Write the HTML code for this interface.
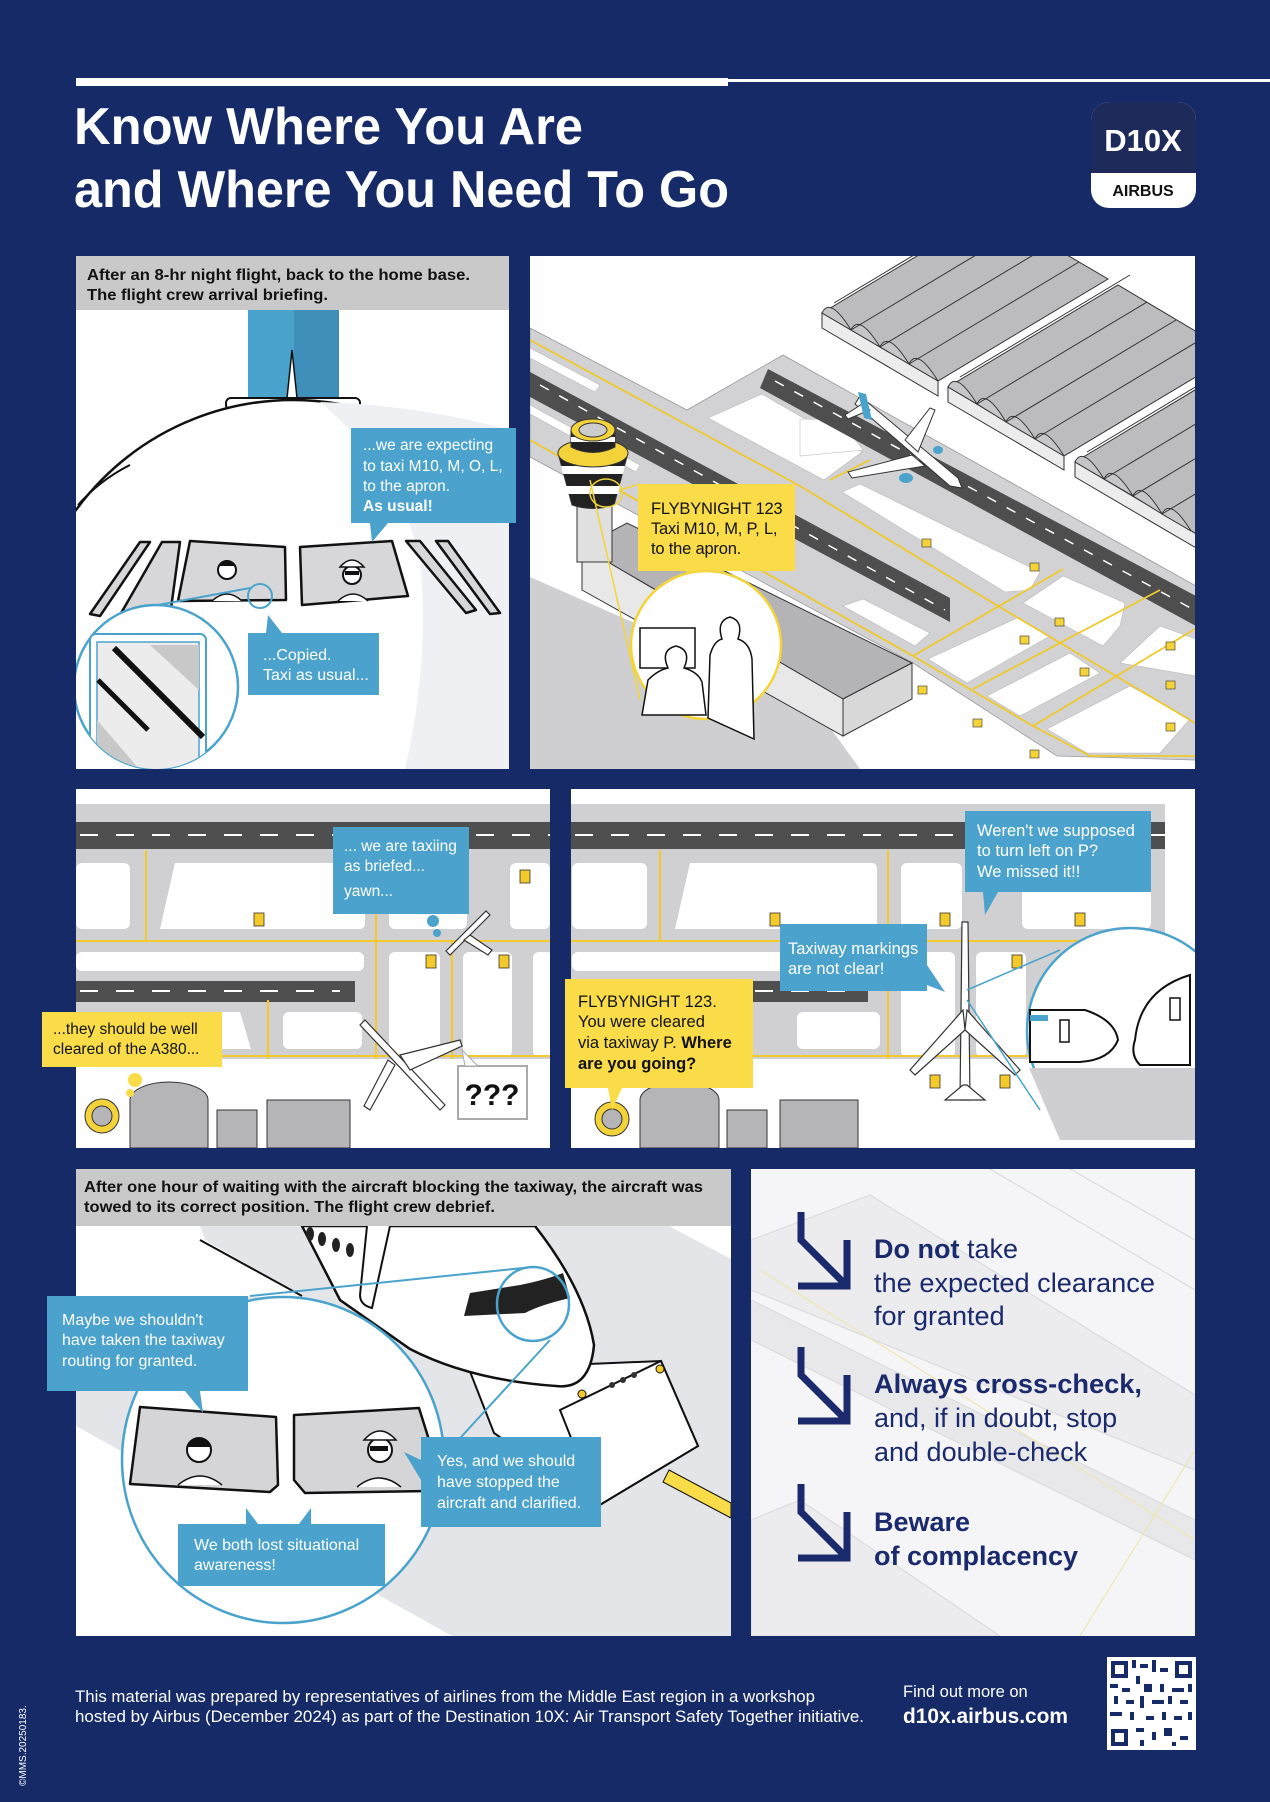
<!DOCTYPE html>
<html><head><meta charset="utf-8"><style>
html,body{margin:0;padding:0;background:#162a68;}
svg{display:block}
text{font-family:"Liberation Sans",sans-serif}
</style></head><body>
<svg width="1270" height="1802" viewBox="0 0 1270 1802" xmlns="http://www.w3.org/2000/svg">
<defs>
<clipPath id="c1"><rect x="76" y="310" width="433" height="459"/></clipPath>
<clipPath id="c2"><rect x="530" y="256" width="665" height="513"/></clipPath>
<clipPath id="c3"><rect x="76" y="789" width="474" height="359"/></clipPath>
<clipPath id="c4"><rect x="571" y="789" width="624" height="359"/></clipPath>
<clipPath id="c5"><rect x="76" y="1226" width="655" height="410"/></clipPath>
<clipPath id="c6"><rect x="751" y="1169" width="444" height="467"/></clipPath>
<clipPath id="mag1"><circle cx="156" cy="687" r="82"/></clipPath>
</defs>
<rect width="1270" height="1802" fill="#162a68"/>
<rect x="76" y="78" width="652" height="8" fill="#fff"/>
<rect x="728" y="79" width="542" height="3" fill="#fff"/>
<text x="74" y="144" font-size="52" font-weight="bold" fill="#fff" textLength="509" lengthAdjust="spacingAndGlyphs">Know Where You Are</text>
<text x="74" y="207" font-size="52" font-weight="bold" fill="#fff" textLength="655" lengthAdjust="spacingAndGlyphs">and Where You Need To Go</text>
<rect x="1091" y="102" width="105" height="106" rx="18" fill="#fff"/>
<path d="M1091 173 V120 a18 18 0 0 1 18 -18 h69 a18 18 0 0 1 18 18 V173 Z" fill="#1e2b5a"/>
<text x="1143" y="151" font-size="31" font-weight="bold" fill="#fff" text-anchor="middle">D10X</text>
<text x="1143" y="196" font-size="16" font-weight="bold" fill="#111" text-anchor="middle">AIRBUS</text>

<!-- PANEL 1 -->
<rect x="76" y="256" width="433" height="513" fill="#fff"/>
<rect x="76" y="256" width="433" height="54" fill="#c9c9c9"/>
<text x="87" y="280" font-size="16" font-weight="bold" fill="#111" textLength="383" lengthAdjust="spacingAndGlyphs">After an 8-hr night flight, back to the home base.</text>
<text x="87" y="300" font-size="16" font-weight="bold" fill="#111" textLength="241" lengthAdjust="spacingAndGlyphs">The flight crew arrival briefing.</text>
<g clip-path="url(#c1)">
<rect x="248" y="310" width="46" height="88" fill="#4aa3cc"/>
<rect x="294" y="310" width="45" height="88" fill="#3f8fba"/>
<path d="M287 398 L292 350 L297 398 Z" fill="#fff" stroke="#111" stroke-width="1.5"/>
<rect x="226" y="398" width="134" height="12" rx="5" fill="#fff" stroke="#111" stroke-width="2"/>
<circle cx="293" cy="669" r="269" fill="#fff" stroke="#111" stroke-width="2.5"/>
<path d="M320 402 Q400 470 420 560 Q430 660 405 769 L509 769 L509 430 Q420 405 320 402 Z" fill="#eef0f3"/>
<path d="M130 465 Q100 480 78 505" stroke="#111" stroke-width="2" fill="none"/>
<g fill="#d7d7d9" stroke="#111" stroke-width="2.5" stroke-linejoin="round">
<path d="M90 614 L140 542 L150 542 L100 616 Z"/>
<path d="M120 615 L162 542 L180 542 L170 616 Z"/>
<path d="M190 541 L285 547 L286 600 L178 601 Z"/>
<path d="M300 547 L392 541 L408 596 L302 605 Z"/>
<path d="M406 541 L420 541 L476 610 L466 613 Z"/>
<path d="M436 541 L448 541 L500 613 L490 614 Z"/>
</g>
<circle cx="227" cy="570" r="9" fill="#fff" stroke="#111" stroke-width="2"/><path d="M218 566 q9 -12 18 0" fill="#111"/>
<path d="M212 601 q15 -14 30 0" fill="#fff" stroke="#111" stroke-width="1.5"/>
<circle cx="352" cy="575" r="9" fill="#fff" stroke="#111" stroke-width="2"/><path d="M340 567 q12 -14 24 0 z" fill="#fff" stroke="#111" stroke-width="1.5"/><rect x="345" y="571" width="14" height="4" fill="#111"/>
<path d="M338 601 q15 -14 30 0" fill="#fff" stroke="#111" stroke-width="1.5"/>
<circle cx="260" cy="596" r="12" fill="none" stroke="#4aa3cc" stroke-width="2"/>
<line x1="158" y1="605" x2="250" y2="588" stroke="#4aa3cc" stroke-width="2"/>
<circle cx="156" cy="687" r="82" fill="#fff" stroke="#4aa3cc" stroke-width="2.5"/>
<g clip-path="url(#mag1)">
<rect x="90" y="634" width="116" height="150" rx="6" fill="#fff" stroke="#4aa3cc" stroke-width="2"/>
<rect x="97" y="642" width="102" height="140" fill="#ececec" stroke="#4aa3cc" stroke-width="1.5"/>
<polygon points="150,645 199,645 199,690" fill="#c8c8c8"/>
<polygon points="97,720 140,770 120,782 97,782" fill="#c8c8c8"/>
<line x1="114" y1="648" x2="203" y2="737" stroke="#111" stroke-width="6"/>
<line x1="98" y1="680" x2="148" y2="730" stroke="#111" stroke-width="5"/>
</g>
</g>
<rect x="351" y="428" width="165" height="95" fill="#4ba3cd"/>
<polygon points="370,523 388,523 372,542" fill="#4ba3cd"/>
<g font-size="15.5" fill="#fff"><text x="363" y="450">...we are expecting</text><text x="363" y="471">to taxi M10, M, O, L,</text><text x="363" y="491">to the apron.</text><text x="363" y="511" font-weight="bold">As usual!</text></g>
<rect x="248" y="633" width="131" height="62" fill="#4ba3cd"/>
<polygon points="266,633 282,633 268,615" fill="#4ba3cd"/>
<g font-size="16" fill="#fff"><text x="263" y="660">...Copied.</text><text x="263" y="680">Taxi as usual...</text></g>

<!-- PANEL 2 -->
<rect x="530" y="256" width="665" height="513" fill="#fff"/>
<g clip-path="url(#c2)">
<polygon points="530,577 810,700 860,769 530,769" fill="#cfcfd1"/>
<!-- pavement -->
<polygon points="530,328 687,410 783,355 1196,586 1196,760 1057,756 913,663 530,457" fill="#d2d2d4" stroke="#999" stroke-width="0.8"/>
<g fill="#fff" stroke="#bbb" stroke-width="0.6">
<polygon points="530,348 600,385 595,392 530,358"/>
<polygon points="530,405 640,465 636,472 530,414"/>
<polygon points="708,418 762,394 862,452 824,480"/>
<polygon points="842,492 860,484 1040,572 1030,590 1005,592"/>
<polygon points="800,419 840,420 863,450 800,456"/>
<polygon points="843,606 863,599 930,633 915,646"/>
<polygon points="1023,603 1063,576 1125,603 1120,626 1103,646"/>
<polygon points="928,659 1017,618 1050,636 967,683"/>
<polygon points="987,696 1070,653 1100,673 1020,716"/>
<polygon points="1047,729 1130,686 1190,719 1160,753 1087,753"/>
<polygon points="1120,663 1160,626 1196,639 1196,676"/>
</g>
<polygon points="530,372 950,598 950,622 530,397" fill="#4e4e4e"/>
<polygon points="768,369 1196,596 1196,626 760,388" fill="#4e4e4e"/>
<line x1="540" y1="385" x2="945" y2="610" stroke="#fff" stroke-width="1.5" stroke-dasharray="10,12"/>
<line x1="775" y1="381" x2="1196" y2="611" stroke="#fff" stroke-width="1.5" stroke-dasharray="10,12"/>
<g stroke="#f1c82a" stroke-width="1.8" fill="none">
<polyline points="530,340 800,486 993,603 1195,723"/>
<line x1="530" y1="440" x2="913" y2="656"/>
<line x1="913" y1="656" x2="1063" y2="569"/>
<line x1="973" y1="689" x2="1160" y2="590"/>
<line x1="1033" y1="726" x2="1195" y2="629"/>
<polyline points="913,656 1033,726 1090,756 1195,756"/>
<line x1="830" y1="480" x2="870" y2="460"/>
</g>
<g fill="#f4d23a" stroke="#333" stroke-width=".6"><rect x="922" y="539" width="9" height="8"/><rect x="1030" y="563" width="9" height="8"/><rect x="1055" y="618" width="9" height="8"/><rect x="1020" y="636" width="9" height="8"/><rect x="1080" y="668" width="9" height="8"/><rect x="918" y="686" width="9" height="8"/><rect x="973" y="719" width="9" height="8"/><rect x="1166" y="642" width="9" height="8"/><rect x="1166" y="681" width="9" height="8"/><rect x="1166" y="723" width="9" height="8"/><rect x="1030" y="750" width="9" height="8"/></g>
<!-- hangars -->
<g stroke="#333" stroke-width="1">
<polygon points="822,313 938,381 1108,279 992,211" fill="#bcbcbe"/>
<polygon points="822,313 938,381 938,396 822,328" fill="#ececec"/>
<polygon points="948,387 1064,456 1234,354 1118,285" fill="#bcbcbe"/>
<polygon points="948,387 1064,456 1064,470 948,402" fill="#ececec"/>
<polygon points="1075,462 1220,548 1390,446 1245,360" fill="#bcbcbe"/>
<polygon points="1075,462 1220,548 1220,562 1075,477" fill="#ececec"/>
</g>
<g stroke="#333" stroke-width="1" fill="#c6c6c8">
<path d="M822 313 Q830 296 851 330 Z"/><path d="M851 330 Q859 313 880 347 Z"/><path d="M880 347 Q888 330 909 364 Z"/><path d="M909 364 Q917 347 938 381 Z"/>
<path d="M948 387 Q956 370 977 404 Z"/><path d="M977 404 Q985 387 1006 422 Z"/><path d="M1006 422 Q1014 405 1035 439 Z"/><path d="M1035 439 Q1043 422 1064 456 Z"/>
<path d="M1075 462 Q1083 445 1104 479 Z"/><path d="M1104 479 Q1112 462 1133 496 Z"/><path d="M1133 496 Q1141 479 1162 514 Z"/><path d="M1162 514 Q1170 497 1191 531 Z"/>
</g>
<g stroke="#333" stroke-width="1">
<line x1="851" y1="330" x2="1021" y2="228"/><line x1="880" y1="347" x2="1050" y2="245"/><line x1="909" y1="364" x2="1079" y2="262"/><line x1="834" y1="303" x2="1004" y2="201"/>
<line x1="977" y1="404" x2="1147" y2="302"/><line x1="1006" y1="422" x2="1176" y2="320"/><line x1="1035" y1="439" x2="1205" y2="337"/><line x1="960" y1="377" x2="1130" y2="275"/>
<line x1="1104" y1="479" x2="1274" y2="377"/><line x1="1133" y1="496" x2="1303" y2="394"/><line x1="1162" y1="514" x2="1332" y2="412"/><line x1="1087" y1="452" x2="1257" y2="350"/>
</g>
<!-- building -->
<polygon points="582,547 627,523 912,663 843,699" fill="#b4b4b6" stroke="#333"/>
<polygon points="582,547 843,699 843,736 582,590" fill="#e8e8e8" stroke="#333"/>
<polygon points="843,699 912,663 912,699 843,736" fill="#d8d8d8" stroke="#333"/>
<!-- tower -->
<rect x="577" y="490" width="35" height="72" fill="#e0e0e0" stroke="#333"/>
<path d="M558 453 H628 L614 505 Q593 512 572 505 Z" fill="#222" stroke="#333"/>
<path d="M561 466 H625 L623 474 H563 Z M566 486 H620 L618 494 H568 Z" fill="#fff"/>
<ellipse cx="593" cy="453" rx="35" ry="14" fill="#f4d23a" stroke="#333"/>
<path d="M571 430 V447 Q593 458 615 447 V430" fill="#222" stroke="#333"/>
<rect x="571" y="437" width="44" height="5" fill="#fff"/>
<ellipse cx="593" cy="430" rx="22" ry="11" fill="#f4d23a" stroke="#333"/>
<ellipse cx="593" cy="430" rx="14" ry="7" fill="#ccc" stroke="#333"/>
<!-- plane -->
<g stroke="#333" stroke-width="1" fill="#fff">
<path d="M860 396 L958 478 L962 488 L950 486 L855 404 Z"/>
<path d="M905 440 L930 408 L935 410 L918 452 Z"/>
<path d="M912 455 L848 472 L852 478 L925 466 Z"/>
<path d="M862 404 L845 415 L848 419 L870 410 Z"/>
</g>
<path d="M858 392 L866 394 L872 420 L864 418 Z" fill="#4aa3cc"/>
<ellipse cx="906" cy="478" rx="7" ry="5" fill="#4aa3cc"/>
<ellipse cx="938" cy="450" rx="5" ry="4" fill="#4aa3cc"/>
</g>
<line x1="590" y1="480" x2="640" y2="700" stroke="#f3d43a" stroke-width="1.5"/>
<line x1="620" y1="490" x2="640" y2="484" stroke="#f3d43a" stroke-width="1.5"/>
<ellipse cx="606" cy="493" rx="16" ry="14" fill="none" stroke="#f3d43a" stroke-width="1.5"/>
<rect x="638" y="484" width="157" height="87" fill="#f9dc48"/>
<polygon points="686,571 706,571 690,596" fill="#f9dc48"/>
<ellipse cx="706" cy="645" rx="75" ry="74" fill="#fff" stroke="#f3d43a" stroke-width="2.5"/>
<rect x="640" y="628" width="55" height="40" fill="none" stroke="#111" stroke-width="1.5"/>
<path d="M642 715 L648 680 q10 -10 20 -12 q-8 -18 8 -22 q16 4 8 22 q14 4 18 14 l4 33 z" fill="#fff" stroke="#111" stroke-width="1.5"/>
<path d="M708 718 L710 655 q4 -14 12 -16 q-6 -18 8 -22 q14 4 8 22 q12 4 14 20 l2 80 z" fill="#fff" stroke="#111" stroke-width="1.5"/>
<g font-size="16.5" fill="#111" letter-spacing="-0.2"><text x="651" y="514">FLYBYNIGHT 123</text><text x="651" y="534">Taxi M10, M, P, L,</text><text x="651" y="554">to the apron.</text></g>

<!-- PANEL 3 -->
<rect x="76" y="789" width="474" height="359" fill="#fff"/>
<g clip-path="url(#c3)">
<rect x="76" y="804" width="474" height="255" fill="#d0d0d2"/>
<rect x="76" y="822" width="474" height="27" fill="#4f4f4f"/>
<line x1="80" y1="835" x2="550" y2="835" stroke="#fff" stroke-width="2" stroke-dasharray="18,18"/>
<g fill="#fff">
<rect x="76" y="863" width="54" height="66" rx="6"/><path d="M175 863 H360 a5 5 0 0 1 5 5 V924 a5 5 0 0 1 -5 5 H160 Z"/>
<rect x="389" y="863" width="78" height="66" rx="6"/><rect x="510" y="863" width="40" height="66" rx="6"/>
<rect x="76" y="952" width="288" height="19" rx="6"/>
<rect x="389" y="952" width="51" height="105" rx="6"/><rect x="463" y="952" width="49" height="105" rx="6"/><rect x="533" y="952" width="20" height="105" rx="6"/>
<path d="M76 1012 H240 L251 1049 H76 Z"/><rect x="283" y="1012" width="79" height="37" rx="6"/>
<rect x="76" y="1059" width="474" height="89"/>
</g>
<rect x="76" y="981" width="279" height="21" fill="#4f4f4f"/>
<line x1="80" y1="991" x2="340" y2="991" stroke="#fff" stroke-width="2" stroke-dasharray="18,18"/>
<g stroke="#f4c92a" stroke-width="2" fill="none"><line x1="76" y1="941" x2="550" y2="941"/><line x1="376" y1="850" x2="376" y2="1059"/><line x1="452" y1="941" x2="452" y2="1059"/><line x1="146" y1="850" x2="146" y2="941"/><line x1="76" y1="1056" x2="550" y2="1056"/><line x1="268" y1="1000" x2="268" y2="1059"/></g>
<g fill="#f4c92a" stroke="#333" stroke-width=".8"><rect x="254" y="913" width="10" height="13"/><rect x="426" y="955" width="10" height="13"/><rect x="499" y="955" width="10" height="13"/><rect x="520" y="870" width="10" height="13"/></g>
<path d="M130 1148 V1100 a39 18 0 0 1 78 0 V1148 Z" fill="#b5b5b8" stroke="#333"/>
<rect x="217" y="1110" width="40" height="38" fill="#b5b5b8" stroke="#333"/>
<rect x="267" y="1100" width="83" height="48" fill="#b5b5b8" stroke="#333"/>
<circle cx="102" cy="1116" r="17" fill="#f4d23a" stroke="#333"/><circle cx="102" cy="1116" r="10" fill="#b5b5b8" stroke="#333"/>
<g fill="#fff" stroke="#333" stroke-width="1.2">
<path d="M365 1020 L445 1105 L440 1110 L360 1025 Z"/><path d="M400 1055 L460 1040 L462 1046 L410 1070 Z"/><path d="M395 1065 L370 1110 L364 1106 L388 1060 Z"/>
<path d="M490 915 L450 955 L446 951 L486 911 Z"/><path d="M470 935 L492 950 L488 955 L464 940 Z"/>
</g>
</g>
<rect x="333" y="827" width="136" height="87" fill="#4ba3cd"/>
<circle cx="433" cy="921" r="6" fill="#4ba3cd"/><circle cx="437" cy="933" r="4" fill="#4ba3cd"/>
<g font-size="15.5" fill="#fff"><text x="344" y="851">... we are taxiing</text><text x="344" y="871">as briefed...</text><text x="344" y="896">yawn...</text></g>
<rect x="42" y="1012" width="180" height="55" fill="#f9dc48"/>
<circle cx="135" cy="1080" r="7" fill="#f9dc48"/><circle cx="130" cy="1093" r="4" fill="#f9dc48"/>
<g font-size="15.5" fill="#111"><text x="53" y="1034">...they should be well</text><text x="53" y="1054">cleared of the A380...</text></g>
<rect x="458" y="1066" width="69" height="53" fill="#fff" stroke="#aaa" stroke-width="2"/>
<polygon points="465,1066 478,1066 462,1050" fill="#fff" stroke="#aaa" stroke-width="1"/>
<text x="492" y="1105" font-size="30" font-weight="bold" fill="#111" text-anchor="middle">???</text>

<!-- PANEL 4 -->
<rect x="571" y="789" width="624" height="359" fill="#fff"/>
<g clip-path="url(#c4)">
<rect x="571" y="804" width="594" height="255" fill="#d0d0d2"/>
<rect x="571" y="822" width="594" height="27" fill="#4f4f4f"/>
<line x1="575" y1="835" x2="1165" y2="835" stroke="#fff" stroke-width="2" stroke-dasharray="18,18"/>
<g fill="#fff">
<rect x="572" y="863" width="75" height="66" rx="6"/><path d="M690 863 H872 a5 5 0 0 1 5 5 V924 a5 5 0 0 1 -5 5 H675 Z"/>
<rect x="901" y="863" width="61" height="66" rx="6"/><rect x="1022" y="863" width="129" height="66" rx="6"/>
<rect x="572" y="952" width="296" height="19" rx="6"/>
<rect x="901" y="952" width="54" height="105" rx="6"/><rect x="976" y="952" width="50" height="105" rx="6"/>
<rect x="797" y="1012" width="83" height="37" rx="6"/><path d="M572 1012 H740 L750 1049 H572 Z"/>
<rect x="571" y="1059" width="624" height="89"/>
</g>
<rect x="571" y="981" width="297" height="21" fill="#4f4f4f"/>
<line x1="575" y1="991" x2="860" y2="991" stroke="#fff" stroke-width="2" stroke-dasharray="18,18"/>
<g stroke="#f4c92a" stroke-width="2" fill="none"><line x1="571" y1="941" x2="1165" y2="941"/><line x1="888" y1="850" x2="888" y2="1059"/><line x1="965" y1="941" x2="965" y2="1059"/><line x1="660" y1="850" x2="660" y2="941"/><line x1="571" y1="1056" x2="1165" y2="1056"/></g>
<g fill="#f4c92a" stroke="#333" stroke-width=".8"><rect x="770" y="913" width="10" height="13"/><rect x="940" y="913" width="10" height="13"/><rect x="1075" y="913" width="10" height="13"/><rect x="1012" y="955" width="10" height="13"/><rect x="930" y="1075" width="10" height="13"/><rect x="1000" y="1075" width="10" height="13"/></g>
<path d="M640 1148 V1100 a39 18 0 0 1 79 0 V1148 Z" fill="#b5b5b8" stroke="#333"/>
<rect x="727" y="1110" width="40" height="38" fill="#b5b5b8" stroke="#333"/>
<rect x="780" y="1100" width="78" height="48" fill="#b5b5b8" stroke="#333"/>
<circle cx="612" cy="1119" r="17" fill="#f4d23a" stroke="#333"/><circle cx="612" cy="1119" r="10" fill="#b5b5b8" stroke="#333"/>
<g fill="#fff" stroke="#333" stroke-width="1.2">
<path d="M962 922 L968 922 L970 1100 L960 1100 Z"/>
<path d="M963 1010 L910 1070 L915 1075 L965 1030 Z"/><path d="M967 1010 L1020 1070 L1015 1075 L965 1030 Z"/>
<path d="M963 1085 L945 1100 L985 1100 L967 1085 Z"/>
</g>
<circle cx="1130" cy="1031" r="103" fill="#fff" stroke="#4aa3cc" stroke-width="2.5"/>
<path d="M1029 1068 H1195 V1140 H1060 Z" fill="#cfcfd1"/>
<path d="M1030 1010 H1085 Q1115 1020 1118 1040 Q1110 1060 1080 1062 H1030 Z" fill="#fff" stroke="#111" stroke-width="2"/>
<rect x="1060" y="1020" width="9" height="22" fill="#fff" stroke="#111" stroke-width="1.5"/>
<path d="M1135 1040 Q1140 990 1190 975 V1065 H1140 Q1130 1055 1135 1040 Z" fill="#fff" stroke="#111" stroke-width="2"/>
<rect x="1170" y="998" width="10" height="22" fill="#fff" stroke="#111" stroke-width="1.5"/>
<rect x="1030" y="1015" width="18" height="6" fill="#4aa3cc"/>
<line x1="967" y1="990" x2="1060" y2="950" stroke="#4aa3cc" stroke-width="1.5"/>
<line x1="967" y1="1000" x2="1040" y2="1110" stroke="#4aa3cc" stroke-width="1.5"/>
</g>
<rect x="965" y="811" width="186" height="81" fill="#4ba3cd"/>
<polygon points="983,892 998,892 985,915" fill="#4ba3cd"/>
<g font-size="16.5" fill="#fff"><text x="977" y="836">Weren't we supposed</text><text x="977" y="856">to turn left on P?</text><text x="977" y="877">We missed it!!</text></g>
<rect x="780" y="924" width="147" height="67" fill="#4ba3cd"/>
<polygon points="927,965 927,985 945,992" fill="#4ba3cd"/>
<g font-size="16.5" fill="#fff"><text x="788" y="954">Taxiway markings</text><text x="788" y="974">are not clear!</text></g>
<rect x="565" y="979" width="188" height="109" fill="#f9dc48"/>
<polygon points="608,1088 622,1088 612,1110" fill="#f9dc48"/>
<g font-size="16.5" fill="#111"><text x="578" y="1007">FLYBYNIGHT 123.</text><text x="578" y="1027">You were cleared</text><text x="578" y="1048">via taxiway P. <tspan font-weight="bold">Where</tspan></text><text x="578" y="1069" font-weight="bold">are you going?</text></g>

<!-- PANEL 5 -->
<rect x="76" y="1169" width="655" height="467" fill="#e4e5e8"/>
<rect x="76" y="1169" width="655" height="57" fill="#c9c9c9"/>
<text x="84" y="1192" font-size="16" font-weight="bold" fill="#111" textLength="619" lengthAdjust="spacingAndGlyphs">After one hour of waiting with the aircraft blocking the taxiway, the aircraft was</text>
<text x="84" y="1212" font-size="16" font-weight="bold" fill="#111" textLength="411" lengthAdjust="spacingAndGlyphs">towed to its correct position. The flight crew debrief.</text>
<g clip-path="url(#c5)">
<polygon points="76,1426 452,1636 76,1636" fill="#fff"/>
<polygon points="669,1226 731,1226 731,1259" fill="#fff"/>
<polygon points="76,1226 200,1226 205,1240 302,1296 76,1300" fill="#fff"/>
<line x1="200" y1="1240" x2="302" y2="1296" stroke="#111" stroke-width="2"/>
<polygon points="469,1369 661,1361 698,1446 598,1506 494,1433" fill="#fff" stroke="#111" stroke-width="2"/>
<polygon points="560,1410 661,1361 698,1446 598,1506" fill="#fff" stroke="#111" stroke-width="2"/>
<circle cx="582" cy="1394" r="4" fill="#f4c92a" stroke="#111"/><circle cx="660" cy="1369" r="4" fill="#f4c92a" stroke="#111"/>
<circle cx="612" cy="1385" r="3" fill="#333"/><circle cx="623" cy="1380" r="3" fill="#333"/><circle cx="634" cy="1375" r="3" fill="#333"/>
<path d="M302 1226 L535 1226 Q585 1290 594 1345 Q590 1390 556 1386 Q470 1380 410 1349 L340 1300 Z" fill="#fff" stroke="#111" stroke-width="2.5"/>
<path d="M367 1226 L360 1295 Q360 1305 372 1308 L390 1226" fill="#fff" stroke="#111" stroke-width="2"/>
<path d="M464 1316 L470 1293 L520 1285 Q545 1280 563 1273 L570 1298 Q540 1305 525 1313 Z" fill="#222"/>
<g fill="#222"><ellipse cx="310" cy="1234" rx="4" ry="7"/><ellipse cx="322" cy="1239" rx="4" ry="7"/><ellipse cx="336" cy="1245" rx="4" ry="7"/><ellipse cx="350" cy="1250" rx="4" ry="7"/></g>
<polygon points="669,1470 731,1503 731,1518 663,1482" fill="#f9dc48" stroke="#111"/>
<ellipse cx="533" cy="1304" rx="36" ry="37" fill="none" stroke="#4aa3cc" stroke-width="2.5"/>
<line x1="250" y1="1296" x2="533" y2="1267" stroke="#4aa3cc" stroke-width="2"/>
<line x1="440" y1="1460" x2="550" y2="1340" stroke="#4aa3cc" stroke-width="2"/>
<ellipse cx="283" cy="1460" rx="161" ry="163" fill="#fff" stroke="#4aa3cc" stroke-width="2.5"/>
<g fill="#d5d5d7" stroke="#111" stroke-width="2.5" stroke-linejoin="round">
<path d="M140 1407 L276 1417 L278 1485 L270 1492 L130 1484 Z"/>
<path d="M294 1415 L419 1408 L440 1475 L430 1491 L305 1493 L294 1480 Z"/>
</g>
<circle cx="199" cy="1450" r="12" fill="#fff" stroke="#111" stroke-width="2"/><path d="M186 1447 q13 -18 26 0" fill="#111"/>
<path d="M178 1485 q22 -18 44 0" fill="#fff" stroke="#111" stroke-width="1.5"/>
<circle cx="380" cy="1450" r="12" fill="#fff" stroke="#111" stroke-width="2"/><path d="M364 1440 q16 -18 32 0 z" fill="#fff" stroke="#111" stroke-width="1.5"/><rect x="370" y="1446" width="18" height="5" fill="#111"/>
<path d="M357 1487 q22 -18 44 0" fill="#fff" stroke="#111" stroke-width="1.5"/>
</g>
<rect x="47" y="1296" width="201" height="95" fill="#4ba3cd"/>
<polygon points="185,1391 200,1391 203,1413" fill="#4ba3cd"/>
<g font-size="16" fill="#fff"><text x="62" y="1325">Maybe we shouldn't</text><text x="62" y="1345">have taken the taxiway</text><text x="62" y="1366">routing for granted.</text></g>
<rect x="421" y="1437" width="180" height="90" fill="#4ba3cd"/>
<polygon points="421,1460 421,1480 404,1452" fill="#4ba3cd"/>
<g font-size="16" fill="#fff"><text x="437" y="1466">Yes, and we should</text><text x="437" y="1487">have stopped the</text><text x="437" y="1508">aircraft and clarified.</text></g>
<rect x="178" y="1524" width="207" height="62" fill="#4ba3cd"/>
<polygon points="246,1524 258,1524 246,1508" fill="#4ba3cd"/><polygon points="299,1524 311,1524 311,1508" fill="#4ba3cd"/>
<g font-size="16" fill="#fff"><text x="194" y="1550">We both lost situational</text><text x="194" y="1570">awareness!</text></g>

<!-- PANEL 6 -->
<rect x="751" y="1169" width="444" height="467" fill="#f5f5f7"/>
<g clip-path="url(#c6)" stroke="#dcdcde" stroke-width="1.2" fill="none">
<polygon points="751,1240 870,1195 1195,1395 1195,1470 751,1290" fill="#ececee"/>
<polygon points="751,1300 1195,1520 1195,1560 751,1340" fill="#e8e8ea"/>
<path d="M990 1169 L1195 1290 M1070 1169 L1195 1240"/>
<polygon points="751,1520 800,1500 1000,1636 751,1636" fill="#ececee"/>
<path d="M760 1270 L1195 1540 M1195 1450 L1080 1636" stroke="#f0e6b0"/>
</g>
<g stroke="#1a2a6c" stroke-width="7" fill="none" stroke-linejoin="miter">
<path d="M801 1212 V1240 L845 1284"/><path d="M798 1286 H847 V1240"/>
<path d="M801 1347 V1375 L845 1419"/><path d="M798 1421 H847 V1375"/>
<path d="M801 1484 V1512 L845 1556"/><path d="M798 1558 H847 V1512"/>
</g>
<g font-size="27" fill="#1a2a6c">
<text x="874" y="1258"><tspan font-weight="bold">Do not</tspan> take</text>
<text x="874" y="1292" textLength="281" lengthAdjust="spacingAndGlyphs">the expected clearance</text>
<text x="874" y="1325">for granted</text>
<text x="874" y="1393" font-weight="bold" textLength="268" lengthAdjust="spacingAndGlyphs">Always cross-check,</text>
<text x="874" y="1427">and, if in doubt, stop</text>
<text x="874" y="1461">and double-check</text>
<text x="874" y="1531" font-weight="bold">Beware</text>
<text x="874" y="1565" font-weight="bold">of complacency</text>
</g>

<g font-size="16.5" fill="#fff">
<text x="75" y="1702" textLength="740" lengthAdjust="spacingAndGlyphs">This material was prepared by representatives of airlines from the Middle East region in a workshop</text>
<text x="75" y="1722" textLength="789" lengthAdjust="spacingAndGlyphs">hosted by Airbus (December 2024) as part of the Destination 10X: Air Transport Safety Together initiative.</text>
<text x="903" y="1697">Find out more on</text>
<text x="903" y="1723" font-size="21" font-weight="bold" textLength="165" lengthAdjust="spacingAndGlyphs">d10x.airbus.com</text>
</g>
<text transform="translate(26,1786) rotate(-90)" font-size="10" fill="#fff">©MMS.20250183.</text>
<rect x="1107" y="1657" width="89" height="93" fill="#fff"/>
<g fill="#162a68">
<rect x="1111" y="1661" width="17" height="17"/><rect x="1175" y="1661" width="17" height="17"/><rect x="1111" y="1729" width="17" height="17"/>
<rect x="1132" y="1660" width="4" height="8"/><rect x="1140" y="1664" width="8" height="4"/><rect x="1152" y="1660" width="4" height="12"/><rect x="1160" y="1668" width="8" height="4"/><rect x="1136" y="1676" width="4" height="8"/>
<rect x="1110" y="1684" width="8" height="4"/><rect x="1122" y="1688" width="8" height="4"/><rect x="1144" y="1684" width="8" height="8"/><rect x="1160" y="1684" width="4" height="8"/><rect x="1172" y="1688" width="12" height="4"/><rect x="1188" y="1684" width="4" height="8"/>
<rect x="1114" y="1696" width="4" height="8"/><rect x="1126" y="1700" width="8" height="4"/><rect x="1140" y="1696" width="4" height="12"/><rect x="1152" y="1700" width="12" height="4"/><rect x="1168" y="1696" width="4" height="8"/><rect x="1180" y="1700" width="8" height="4"/>
<rect x="1110" y="1712" width="12" height="4"/><rect x="1130" y="1712" width="4" height="8"/><rect x="1146" y="1716" width="8" height="4"/><rect x="1162" y="1712" width="4" height="8"/><rect x="1174" y="1716" width="8" height="4"/><rect x="1188" y="1712" width="4" height="8"/>
<rect x="1136" y="1728" width="8" height="4"/><rect x="1152" y="1732" width="4" height="8"/><rect x="1164" y="1728" width="8" height="8"/><rect x="1180" y="1736" width="8" height="4"/><rect x="1140" y="1740" width="4" height="6"/><rect x="1172" y="1742" width="4" height="4"/>
</g>
<g fill="#fff"><rect x="1115" y="1665" width="9" height="9"/><rect x="1179" y="1665" width="9" height="9"/><rect x="1115" y="1733" width="9" height="9"/></g>
</svg>
</body></html>
